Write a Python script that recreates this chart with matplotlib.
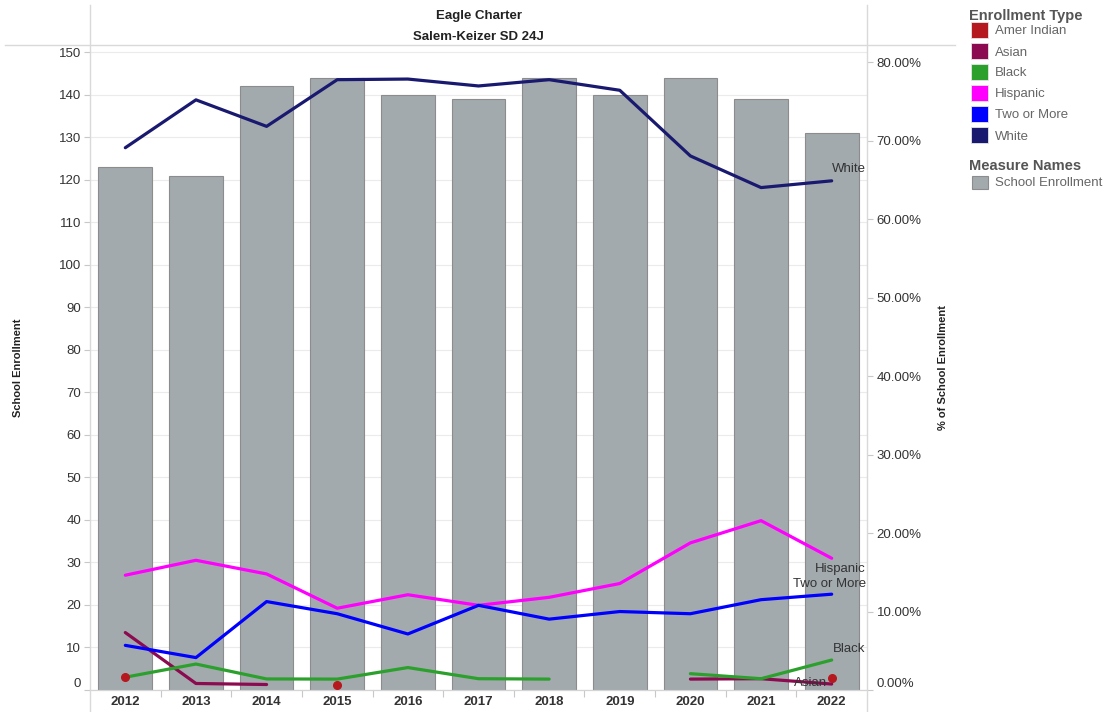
import numpy as np
import matplotlib
matplotlib.use("Agg")
import matplotlib.pyplot as plt
from matplotlib.lines import Line2D
from matplotlib.patches import Rectangle
from matplotlib.ticker import FixedLocator, FuncFormatter

plt.rcParams["font.family"] = ["Liberation Sans", "DejaVu Sans"]

# ---- data -------------------------------------------------------------
years = ["2012", "2013", "2014", "2015", "2016", "2017",
         "2018", "2019", "2020", "2021", "2022"]
school_enrollment = [123, 121, 142, 144, 140, 139, 144, 140, 144, 139, 131]

nan = np.nan
# share of school enrollment (%) per enrollment type; nan = no students
pct_amer_indian = [1.63, nan, nan, 0.69, nan, nan, nan, nan, nan, nan, 1.53]
pct_asian = [7.32, 0.83, 0.70, nan, nan, nan, nan, nan, 1.39, 1.44, 0.76]
pct_black = [1.63, 3.31, 1.41, 1.39, 2.86, 1.44, 1.39, nan, 2.08, 1.44, 3.82]
pct_hispanic = [14.63, 16.53, 14.79, 10.42, 12.14, 10.79, 11.81, 13.57,
                18.75, 21.58, 16.79]
pct_two_or_more = [5.69, 4.13, 11.27, 9.72, 7.14, 10.79, 9.03, 10.00,
                   9.72, 11.51, 12.21]
pct_white = [69.11, 75.21, 71.83, 77.78, 77.86, 76.98, 77.78, 76.43,
             68.06, 64.03, 64.89]

type_names = ["Amer Indian", "Asian", "Black", "Hispanic", "Two or More", "White"]
type_colors = ["#b5191f", "#8b0a50", "#2ca02c", "#ff00ff", "#0000ff", "#191970"]
type_values = [pct_amer_indian, pct_asian, pct_black, pct_hispanic,
               pct_two_or_more, pct_white]

title_lines = ["Eagle Charter", "Salem-Keizer SD 24J"]
bar_color = "#a3aaae"
bar_edge = "#8c8c8c"

# ---- figure -----------------------------------------------------------
W, H = 1110, 712
fig = plt.figure(figsize=(W / 100, H / 100), dpi=100)


def fx(px):
    return px / W


def fy(py):
    return 1 - py / H


ax_left, ax_right, ax_top, ax_bottom = 90, 867, 45, 690
ax_w = ax_right - ax_left
ax = fig.add_axes([fx(ax_left), fy(ax_bottom),
                   fx(ax_w), (ax_bottom - ax_top) / H])
ax2 = ax.twinx()
ax2.patch.set_visible(False)

x = np.arange(len(years))
ax.bar(x, school_enrollment, width=0.76, color=bar_color,
       edgecolor=bar_edge, linewidth=0.8, zorder=2)

ax.set_xlim(-0.5, len(years) - 0.5)
ax.set_ylim(0, 151.7)
ax2.set_ylim(0, 82.2)

# lines for each enrollment type (percent axis)
for name, color, vals in zip(type_names, type_colors, type_values):
    if name == "Amer Indian":
        continue
    v = np.array(vals, dtype=float)
    ax2.plot(x, v, color=color, linewidth=2.3, solid_capstyle="round",
             solid_joinstyle="round", zorder=3)
# isolated points drawn as dots
ai = np.array(pct_amer_indian, dtype=float)
ax2.plot(x, ai, linestyle="none", marker="o", markersize=5.5,
         color=type_colors[0], zorder=4)

# line-end labels
label_style = {
    "White": (34, 12, "right"),
    "Hispanic": (34, -11, "right"),
    "Two or More": (34, 10, "right"),
    "Black": (34, 11, "right"),
    "Asian": (-5, 1, "right"),
}
for name, vals in zip(type_names, type_values):
    if name not in label_style:
        continue
    dx, dy, ha = label_style[name]
    ax2.annotate(name, xy=(x[-1], vals[-1]), xytext=(dx, dy),
                 textcoords="offset pixels", ha=ha, va="center",
                 fontsize=9.5, color="#333333", zorder=6)

# ---- axes styling -----------------------------------------------------
grid_c = "#ebebeb"
tick_c = "#c8c8c8"
ax.yaxis.set_major_locator(FixedLocator(np.arange(0, 151, 10)))
ax.grid(axis="y", color=grid_c, linewidth=0.8, zorder=0)
ax.set_axisbelow(True)
ax.tick_params(axis="y", length=4, width=0.8, color=tick_c, pad=2.5,
               labelsize=9.5, labelcolor="#333333")

ax2.yaxis.set_major_locator(FixedLocator(np.arange(0, 81, 10)))
ax2.yaxis.set_major_formatter(FuncFormatter(lambda v, p: f"{v:.2f}%"))
ax2.tick_params(axis="y", length=4, width=0.8, color=tick_c, pad=3,
                labelsize=9.5, labelcolor="#333333")

ax.set_xticks(x)
ax.set_xticklabels(years, fontweight="bold", fontsize=9.5, color="#333333")
ax.set_xticks(x[:-1] + 0.5, minor=True)
ax.tick_params(axis="x", which="major", length=0, pad=4)
ax.tick_params(axis="x", which="minor", length=5, width=0.8, color=tick_c)

for a in (ax, ax2):
    for s in ("top", "left", "right"):
        a.spines[s].set_visible(False)
    a.spines["bottom"].set_color("#d4d4d4")
    a.spines["bottom"].set_linewidth(0.8)

# keep the zero labels inside the plot area
fig.canvas.draw()
ax.get_yticklabels()[0].set_verticalalignment("bottom")
ax2.get_yticklabels()[0].set_verticalalignment("bottom")

ax.set_ylabel("School Enrollment", fontsize=8, fontweight="bold",
              color="#222222")
ax.yaxis.set_label_coords((23 - ax_left) / ax_w, 0.5)
ax2.set_ylabel("% of School Enrollment", fontsize=8, fontweight="bold",
               color="#222222", rotation=90)
ax2.yaxis.set_label_coords((938 - ax_left) / ax_w, 0.5)

# ---- header and frame lines ------------------------------------------
frame_c = "#d9d9d9"
fig.add_artist(Line2D([fx(5), fx(955)], [fy(45), fy(45)],
                      color=frame_c, linewidth=1.0))
for px in (ax_left, ax_right):
    fig.add_artist(Line2D([fx(px), fx(px)], [fy(5), fy(712)],
                          color=frame_c, linewidth=1.0))

cx = (ax_left + ax_right) / 2
fig.text(fx(cx), fy(16.5), title_lines[0], ha="center", va="center",
         fontsize=9.5, fontweight="bold", color="#222222")
fig.text(fx(cx), fy(37.5), title_lines[1], ha="center", va="center",
         fontsize=9.5, fontweight="bold", color="#222222")

# ---- legend -----------------------------------------------------------
fig.text(fx(969), fy(16), "Enrollment Type", ha="left", va="center",
         fontsize=10.5, fontweight="bold", color="#555555")
for i, (name, color) in enumerate(zip(type_names, type_colors)):
    yc = 30 + i * 21
    fig.add_artist(Rectangle((fx(971), fy(yc + 8)), fx(17), 16 / H,
                             facecolor=color, edgecolor="#e6e6e6",
                             linewidth=0.6))
    fig.text(fx(995), fy(yc + 1.5), name, ha="left", va="center",
             fontsize=9.5, color="#666666")

fig.text(fx(969), fy(166.5), "Measure Names", ha="left", va="center",
         fontsize=10.5, fontweight="bold", color="#555555")
fig.add_artist(Rectangle((fx(972), fy(189)), fx(16), 13 / H,
                         facecolor=bar_color, edgecolor="#8c8c8c",
                         linewidth=0.8))
fig.text(fx(995), fy(183.5), "School Enrollment", ha="left", va="center",
         fontsize=9.5, color="#666666")

fig.savefig("out.png", dpi=100)
